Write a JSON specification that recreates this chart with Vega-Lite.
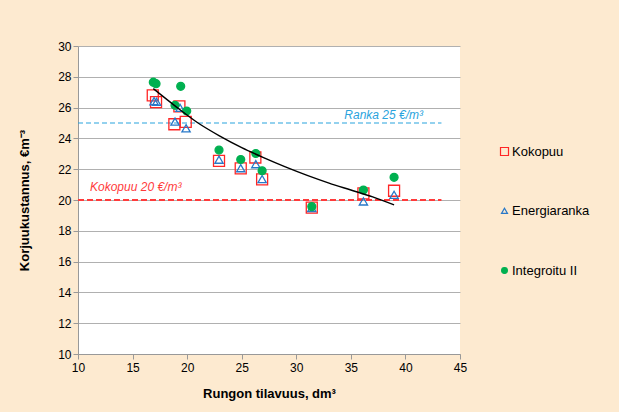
{
  "$schema": "https://vega.github.io/schema/vega-lite/v6.json",
  "width": 382,
  "height": 308,
  "autosize": {"type": "none"},
  "padding": {"left": 78, "top": 46, "right": 159, "bottom": 58},
  "background": "#FDEAD0",
  "config": {
    "view": {"fill": "white", "stroke": null},
    "font": "Liberation Sans",
    "axis": {
      "labelFont": "Liberation Sans",
      "labelFontSize": 12,
      "labelColor": "#000000",
      "labelOverlap": false,
      "labelFlush": false,
      "titleFont": "Liberation Sans",
      "titleFontSize": 13,
      "titleFontWeight": "bold",
      "titleColor": "#000000",
      "domainColor": "#999999",
      "tickColor": "#999999",
      "tickSize": 5,
      "gridColor": "#B0B0B0",
      "gridWidth": 1.2
    },
    "legend": {
      "orient": "none",
      "legendX": 420,
      "legendY": 99,
      "rowPadding": 45.5,
      "symbolSize": 64,
      "symbolStrokeWidth": 1.2,
      "labelFontSize": 13,
      "labelColor": "#000000",
      "labelFont": "Liberation Sans",
      "labelOffset": 1
    }
  },
  "encoding": {
    "x": {"field": "x", "type": "quantitative", "scale": {"domain": [10, 45], "nice": false, "zero": false},
          "axis": {"values": [10, 15, 20, 25, 30, 35, 40, 45], "grid": false, "title": "Rungon tilavuus, dm³", "titlePadding": 14, "labelPadding": 3}},
    "y": {"field": "y", "type": "quantitative", "scale": {"domain": [10, 30], "nice": false, "zero": false},
          "axis": {"values": [10, 12, 14, 16, 18, 20, 22, 24, 26, 28, 30], "tickCount": 11, "grid": true, "title": "Korjuukustannus, €m⁻³", "titlePadding": 26}}
  },
  "layer": [
    {
      "data": {"values": [
        {"y": 25, "x": 10, "x2": 43.3, "line": "Ranka"},
        {"y": 20, "x": 10, "x2": 43.3, "line": "Kokopuu"}
      ]},
      "mark": {"type": "rule"},
      "encoding": {
        "x2": {"field": "x2"},
        "color": {"field": "line", "type": "nominal", "scale": {"domain": ["Ranka", "Kokopuu"], "range": ["#29A3DD", "#FF3B3B"]}, "legend": null},
        "strokeWidth": {"field": "line", "type": "nominal", "scale": {"domain": ["Ranka", "Kokopuu"], "range": [1.2, 2]}, "legend": null},
        "strokeDash": {"field": "line", "type": "nominal", "scale": {"domain": ["Ranka", "Kokopuu"], "range": [[5, 3], [6, 3]]}, "legend": null}
      }
    },
    {
      "data": {"values": [
        {"x": 34.4, "y": 25.55, "label": "Ranka 25 €/m³", "line": "Ranka"},
        {"x": 11.1, "y": 20.85, "label": "Kokopuu 20 €/m³", "line": "Kokopuu"}
      ]},
      "mark": {"type": "text", "align": "left", "baseline": "middle", "fontStyle": "italic", "fontSize": 12},
      "encoding": {
        "text": {"field": "label"},
        "color": {"field": "line", "type": "nominal", "scale": {"domain": ["Ranka", "Kokopuu"], "range": ["#29A3DD", "#FF3B3B"]}, "legend": null}
      }
    },
    {
      "data": {"values": [
        {"x": 16.85, "y": 26.8, "s": "Kokopuu"},
        {"x": 17.15, "y": 26.36, "s": "Kokopuu"},
        {"x": 19.29, "y": 26.08, "s": "Kokopuu"},
        {"x": 19.87, "y": 25.07, "s": "Kokopuu"},
        {"x": 18.83, "y": 24.92, "s": "Kokopuu"},
        {"x": 22.92, "y": 22.54, "s": "Kokopuu"},
        {"x": 24.91, "y": 22.05, "s": "Kokopuu"},
        {"x": 26.25, "y": 22.76, "s": "Kokopuu"},
        {"x": 26.87, "y": 21.34, "s": "Kokopuu"},
        {"x": 31.42, "y": 19.5, "s": "Kokopuu"},
        {"x": 36.15, "y": 20.43, "s": "Kokopuu"},
        {"x": 38.96, "y": 20.6, "s": "Kokopuu"},
        {"x": 16.97, "y": 26.4, "s": "Energiaranka"},
        {"x": 17.2, "y": 26.36, "s": "Energiaranka"},
        {"x": 19.35, "y": 25.97, "s": "Energiaranka"},
        {"x": 18.89, "y": 25.07, "s": "Energiaranka"},
        {"x": 19.9, "y": 24.64, "s": "Energiaranka"},
        {"x": 22.92, "y": 22.6, "s": "Energiaranka"},
        {"x": 24.91, "y": 22.05, "s": "Energiaranka"},
        {"x": 26.29, "y": 22.31, "s": "Energiaranka"},
        {"x": 26.87, "y": 21.34, "s": "Energiaranka"},
        {"x": 31.42, "y": 19.46, "s": "Energiaranka"},
        {"x": 36.15, "y": 19.89, "s": "Energiaranka"},
        {"x": 38.96, "y": 20.32, "s": "Energiaranka"},
        {"x": 16.9, "y": 27.65, "s": "Integroitu II"},
        {"x": 17.15, "y": 27.55, "s": "Integroitu II"},
        {"x": 19.41, "y": 27.38, "s": "Integroitu II"},
        {"x": 18.89, "y": 26.15, "s": "Integroitu II"},
        {"x": 19.96, "y": 25.78, "s": "Integroitu II"},
        {"x": 22.92, "y": 23.24, "s": "Integroitu II"},
        {"x": 24.91, "y": 22.63, "s": "Integroitu II"},
        {"x": 26.29, "y": 23.02, "s": "Integroitu II"},
        {"x": 26.87, "y": 21.9, "s": "Integroitu II"},
        {"x": 31.42, "y": 19.57, "s": "Integroitu II"},
        {"x": 36.15, "y": 20.65, "s": "Integroitu II"},
        {"x": 38.96, "y": 21.47, "s": "Integroitu II"}
      ]},
      "mark": {"type": "point", "strokeWidth": 1.3, "opacity": 1, "size": 121},
      "encoding": {
        "shape": {"field": "s", "type": "nominal", "title": null, "scale": {"domain": ["Kokopuu", "Energiaranka", "Integroitu II"], "range": ["M-1,-1H1V1H-1Z", "M0,-0.7L0.75,0.6L-0.75,0.6Z", "M0.72,0A0.72,0.72,0,1,1,-0.72,0A0.72,0.72,0,1,1,0.72,0Z"]}},
        "stroke": {"field": "s", "type": "nominal", "title": null, "scale": {"domain": ["Kokopuu", "Energiaranka", "Integroitu II"], "range": ["#FF2626", "#2878C8", "#00B050"]}},
        "fill": {"field": "s", "type": "nominal", "title": null, "scale": {"domain": ["Kokopuu", "Energiaranka", "Integroitu II"], "range": ["transparent", "transparent", "#00B050"]}}
      }
    },
    {
      "data": {"values": [
        {"x": 16.9, "y": 27.23},
        {"x": 19, "y": 26.05},
        {"x": 21, "y": 25.0},
        {"x": 23, "y": 24.15},
        {"x": 25, "y": 23.4},
        {"x": 27, "y": 22.75},
        {"x": 29, "y": 22.15},
        {"x": 31, "y": 21.6},
        {"x": 33, "y": 21.1},
        {"x": 35, "y": 20.65},
        {"x": 37, "y": 20.2},
        {"x": 38.96, "y": 19.68}
      ]},
      "mark": {"type": "line", "color": "#000000", "strokeWidth": 1.4, "interpolate": "monotone"}
    }
  ]
}
